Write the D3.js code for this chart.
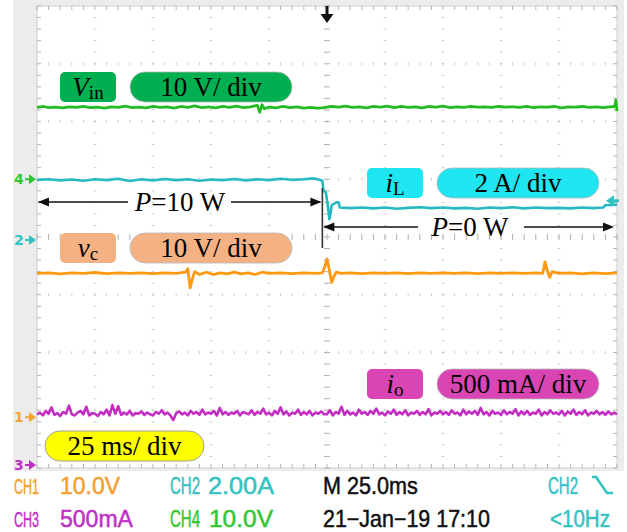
<!DOCTYPE html>
<html><head><meta charset="utf-8">
<script src="https://cdn.jsdelivr.net/npm/d3@7"></script>
<style>html,body{margin:0;padding:0;background:#fff;}svg{display:block;}</style>
</head><body>
<svg id="c" width="627" height="532"></svg>
<script>
// ---------------- DATA ----------------
const timeDomain = [-125, 125];          // ms (25 ms/div, 10 divisions)
const divDomain = [-4, 4];               // vertical divisions
// channel: ground offset (div), units per div
const channels = [
  {id: "4", name: "Vin", offset: 1.0,   perDiv: 10,  color: "#22bb22", markColor: "#33c633"},
  {id: "2", name: "iL",  offset: -0.05, perDiv: 2,   color: "#26b9c0", markColor: "#2fc3c3"},
  {id: "1", name: "vc",  offset: -3.12, perDiv: 10,  color: "#ff9a10", markColor: "#f5a330"},
  {id: "3", name: "io",  offset: -3.95, perDiv: 500, color: "#c22ec2", markColor: "#c030c8"}
];
// Vin (V) [t ms, value]
const vinTrace = [[-125,12.45],[-122,12.6],[-120,12.4],[-117,12.5],[-114,12.35],[-111,12.55],[-108,12.45],[-105,12.6],[-102,12.4],[-99,12.5],[-96,12.3],[-93,12.55],[-90,12.45],[-87,12.65],[-84,12.4],[-81,12.5],[-78,12.35],[-75,12.6],[-72,12.45],[-69,12.55],[-66,12.3],[-63,12.6],[-60,12.45],[-57,12.7],[-54,12.4],[-51,12.55],[-48,12.35],[-45,12.6],[-42,12.45],[-39,12.65],[-36,12.4],[-33,12.55],[-30,12.8],[-29,11.6],[-28,12.9],[-27,12.2],[-25,12.5],[-22,12.35],[-19,12.6],[-16,12.4],[-13,12.55],[-10,12.3],[-7,12.45],[-4,12.3],[-2,12.35],[0,12.5],[2,12.6],[5,12.5],[8,12.65],[11,12.45],[14,12.55],[17,12.35],[20,12.6],[23,12.5],[26,12.65],[29,12.4],[32,12.6],[35,12.45],[38,12.55],[41,12.35],[44,12.6],[47,12.5],[50,12.65],[53,12.4],[56,12.55],[59,12.45],[62,12.6],[65,12.5],[68,12.55],[71,12.45],[74,12.6],[77,12.5],[80,12.55],[83,12.45],[86,12.6],[89,12.4],[92,12.55],[95,12.5],[98,12.6],[101,12.35],[104,12.55],[107,12.5],[110,12.6],[113,12.45],[116,12.55],[119,12.4],[122,12.55],[124,12.6],[124.5,13.7],[125,11.8]];
// iL (A)
const iLTrace = [[-125,2.08],[-120,2.1],[-115,2.06],[-110,2.09],[-105,2.05],[-100,2.1],[-95,2.07],[-90,2.12],[-85,2.04],[-80,2.1],[-75,2.06],[-70,2.11],[-65,2.07],[-60,2.1],[-55,2.05],[-50,2.09],[-45,2.07],[-40,2.11],[-35,2.06],[-30,2.1],[-25,2.07],[-20,2.12],[-15,2.08],[-10,2.1],[-6,2.13],[-4,2.1],[-2,2.05],[-1.5,1.7],[-0.5,1.65],[0.5,1.1],[1,0.72],[1.5,0.9],[2,1.2],[3,1.25],[4,1.3],[5,1.3],[5.5,1.12],[10,1.1],[15,1.12],[20,1.09],[25,1.12],[30,1.08],[35,1.11],[40,1.13],[45,1.1],[50,1.12],[55,1.09],[60,1.11],[65,1.08],[70,1.12],[75,1.1],[80,1.13],[85,1.09],[90,1.12],[95,1.1],[100,1.11],[105,1.09],[110,1.12],[115,1.1],[119,1.12],[120,1.2],[125,1.22]];
// vc (V)
const vcTrace = [[-125,24.9],[-120,25.0],[-115,24.8],[-110,25.0],[-105,24.9],[-100,25.05],[-95,24.85],[-90,25.0],[-85,24.9],[-80,25.0],[-75,24.85],[-70,25.0],[-65,24.9],[-61,25.1],[-60,25.7],[-59,22.4],[-58,24.0],[-57,25.2],[-55,24.7],[-52,25.1],[-49,24.7],[-46,25.0],[-43,24.8],[-40,25.1],[-37,24.8],[-34,25.0],[-31,24.7],[-28,25.1],[-25,24.9],[-20,25.0],[-15,24.85],[-10,25.0],[-5,24.9],[-2,25.0],[-1,26.0],[0,27.4],[1,25.5],[2,23.3],[3,24.4],[4,25.1],[6,24.9],[10,25.0],[15,24.85],[20,25.0],[25,24.9],[30,25.0],[35,24.85],[40,25.0],[45,24.9],[50,25.0],[55,24.9],[60,25.0],[65,24.85],[70,25.0],[75,24.9],[80,25.0],[85,24.9],[90,25.0],[93,24.9],[94,26.9],[95,25.3],[96,24.2],[97,25.2],[100,24.9],[105,25.0],[110,24.8],[115,25.0],[120,24.85],[125,25.0]];
// io (mA), sampled every 1.25 ms from -125 ms
const ioStart = -125, ioStep = 1.25;
const ioValues = [
 440,455,430,470,445,500,435,450,425,460,445,515,440,430,455,470,440,505,430,450,
 445,425,460,440,480,430,520,445,510,435,455,440,470,430,450,445,465,435,455,440,
 430,460,445,475,440,455,430,390,450,465,440,455,430,470,445,460,435,480,440,455,
 445,470,430,495,440,460,435,455,445,470,430,460,450,440,475,435,460,445,490,440,
 455,430,470,445,500,440,465,430,455,445,480,435,460,440,470,430,455,445,465,440,
 440,475,430,460,445,505,435,470,440,455,430,480,445,460,435,470,445,490,440,455,
 430,465,445,480,435,460,440,475,430,455,445,470,435,460,440,485,430,455,445,470,
 440,460,435,475,445,455,430,480,440,465,445,470,435,495,440,460,430,470,445,455,
 435,475,440,460,445,485,430,465,440,470,435,455,445,480,430,460,440,475,445,455,
 440,470,430,465,445,480,435,460,440,475,430,455,445,470,440,460,435,465,440,455,
 440];
const scaleLabels = [
  {sym: "V", sub: "in", text: "10 V/ div",   color: "#00b050", bx: 60,  pill: 130, y: 72,  w: 162},
  {sym: "i", sub: "L",  text: "2 A/ div",    color: "#1ee5ef", bx: 367, pill: 437, y: 168, w: 162},
  {sym: "v", sub: "c",  text: "10 V/ div",   color: "#f4b183", bx: 60,  pill: 130, y: 233, w: 162},
  {sym: "i", sub: "o",  text: "500 mA/ div", color: "#d946b4", bx: 367, pill: 437, y: 369, w: 162}
];
const timeLabel = "25 ms/ div";
const powerBefore = "10 W", powerAfter = "0 W";
const statusRow1 = [
  {t: "CH1", x: 14, w: 25, c: "#f2a030"}, {t: "10.0V", x: 60, w: 60, c: "#f2a030"},
  {t: "CH2", x: 170, w: 30, c: "#33c3c3"}, {t: "2.00A", x: 208, w: 66, c: "#33c3c3"},
  {t: "M 25.0ms", x: 323, w: 95, c: "#111"}, {t: "CH2", x: 548, w: 30, c: "#33c3c3"}
];
const statusRow2 = [
  {t: "CH3", x: 14, w: 25, c: "#c030c8"}, {t: "500mA", x: 60, w: 73, c: "#c030c8"},
  {t: "CH4", x: 170, w: 30, c: "#33c633"}, {t: "10.0V", x: 209, w: 64, c: "#33c633"},
  {t: "21\u2212Jan\u221219 17:10", x: 323, w: 167, c: "#111"}, {t: "<10Hz", x: 550, w: 60, c: "#33c3c3"}
];

// ---------------- DRAW ----------------
const svg = d3.select("#c");
const L = 37, R = 617, T = 6, B = 468;
const x = d3.scaleLinear().domain(timeDomain).range([L, R]);
const xd = d3.scaleLinear().domain([-5, 5]).range([L, R]);
const yd = d3.scaleLinear().domain(divDomain).range([B, T]);

svg.append("rect").attr("x", 0).attr("y", 0).attr("width", 627).attr("height", 532).attr("fill", "#fff");
svg.append("rect").attr("x", 13).attr("y", 0).attr("width", 611).attr("height", 471).attr("fill", "#ececec");
svg.append("rect").attr("x", L).attr("y", T).attr("width", R - L).attr("height", B - T)
  .attr("fill", "#fff").attr("stroke", "#cfcfcf").attr("stroke-width", 1);

const g = svg.append("g");
const minorX = d3.range(-5, 5.001, 0.2).map(v => +v.toFixed(2));
const minorY = d3.range(-4, 4.001, 0.2).map(v => +v.toFixed(2));
// border ticks
minorX.forEach(v => {
  g.append("line").attr("x1", xd(v)).attr("x2", xd(v)).attr("y1", T).attr("y2", T + 4).attr("stroke", "#b5b5b5");
  g.append("line").attr("x1", xd(v)).attr("x2", xd(v)).attr("y1", B).attr("y2", B - 4).attr("stroke", "#b5b5b5");
});
minorY.forEach(v => {
  g.append("line").attr("y1", yd(v)).attr("y2", yd(v)).attr("x1", L).attr("x2", L + 4).attr("stroke", "#b5b5b5");
  g.append("line").attr("y1", yd(v)).attr("y2", yd(v)).attr("x1", R).attr("x2", R - 4).attr("stroke", "#b5b5b5");
});
// grid dots
d3.range(-4, 5).forEach(k => {
  const cx = xd(k), len = k === 0 ? 3 : 1.5;
  minorY.forEach(v => g.append("line").attr("x1", cx - len).attr("x2", cx + len).attr("y1", yd(v)).attr("y2", yd(v))
    .attr("stroke", k === 0 ? "#b0b0b0" : "#cdcdcd"));
});
d3.range(-3, 4).forEach(k => {
  const cy = yd(k), len = k === 0 ? 3 : 1.5;
  minorX.forEach(v => g.append("line").attr("y1", cy - len).attr("y2", cy + len).attr("x1", xd(v)).attr("x2", xd(v))
    .attr("stroke", k === 0 ? "#b0b0b0" : "#cdcdcd"));
});

// traces
function chY(ch, v) { return yd(ch.offset + v / ch.perDiv); }
const line = ch => d3.line().x(d => x(d[0])).y(d => chY(ch, d[1]));
const ioTrace = ioValues.map((v, i) => [ioStart + i * ioStep, v]);
[[vinTrace, channels[0], 2.8], [iLTrace, channels[1], 2.6], [vcTrace, channels[2], 2.8], [ioTrace, channels[3], 2.6]].forEach(([data, ch, sw]) => {
  svg.append("path").datum(data).attr("d", line(ch)).attr("fill", "none")
    .attr("stroke", ch.color).attr("stroke-width", sw).attr("stroke-linejoin", "round");
});

// channel ground markers
channels.forEach(ch => {
  const cy = yd(ch.offset);
  svg.append("text").attr("x", 14).attr("y", cy + 5).text(ch.id)
    .attr("font-family", "DejaVu Sans, Arial").attr("font-size", 14).attr("font-weight", "bold")
    .attr("fill", ch.markColor);
  svg.append("path").attr("d", `M25,${cy - 1}h4v-4l7,5l-7,5v-4h-4z`).attr("fill", ch.markColor);
});
// CH2 trigger level marker at right
{
  const cy = chY(channels[1], 1.15) - 6;
  svg.append("path").attr("d", `M606,${cy}l8,-5.5v4h5v3h-5v4z`).attr("fill", channels[1].markColor);
}
// trigger position arrow
svg.append("path").attr("d", `M${x(0) - 1.5},6h3v8h5l-6.5,9l-6.5,-9h5z`).attr("fill", "#111");

// scale labels
const serif = "Liberation Serif, Times New Roman, serif";
scaleLabels.forEach(s => {
  svg.append("rect").attr("x", s.bx).attr("y", s.y).attr("width", 56).attr("height", 30).attr("rx", 5)
    .attr("fill", s.color);
  const t = svg.append("text").attr("x", s.bx + 28).attr("y", s.y + 24).attr("text-anchor", "middle")
    .attr("font-family", serif).attr("font-size", 27).attr("fill", "#000");
  t.append("tspan").attr("font-style", "italic").text(s.sym);
  t.append("tspan").attr("font-size", 19).attr("dy", 3).text(s.sub);
  svg.append("rect").attr("x", s.pill).attr("y", s.y).attr("width", s.w).attr("height", 30).attr("rx", 15)
    .attr("fill", s.color).attr("stroke", "#b8b8b8").attr("stroke-width", 0.8);
  svg.append("text").attr("x", s.pill + s.w / 2).attr("y", s.y + 24).attr("text-anchor", "middle")
    .attr("font-family", serif).attr("font-size", 27).attr("fill", "#000").text(s.text);
});
svg.append("rect").attr("x", 45).attr("y", 431).attr("width", 159).attr("height", 30).attr("rx", 15)
  .attr("fill", "#ffff00").attr("stroke", "#a0a0a0").attr("stroke-width", 1);
svg.append("text").attr("x", 124.5).attr("y", 455).attr("text-anchor", "middle")
  .attr("font-family", serif).attr("font-size", 27).attr("fill", "#000").text(timeLabel);

// power annotations
const stepX = x(-2);
function arrowHead(tipX, y, dir) {
  svg.append("path").attr("d", `M${tipX},${y}l${-dir * 11},-4.5v9z`).attr("fill", "#111");
}
svg.append("line").attr("x1", stepX).attr("x2", stepX).attr("y1", 188).attr("y2", 248).attr("stroke", "#333").attr("stroke-width", 1.6);
const y1 = 202, y2 = 227;
svg.append("line").attr("x1", L + 2).attr("x2", 128).attr("y1", y1).attr("y2", y1).attr("stroke", "#111").attr("stroke-width", 1.3);
svg.append("line").attr("x1", 231).attr("x2", stepX - 2).attr("y1", y1).attr("y2", y1).attr("stroke", "#111").attr("stroke-width", 1.3);
arrowHead(L + 1, y1, -1); arrowHead(stepX - 1, y1, 1);
const p1 = svg.append("text").attr("x", 180).attr("y", y1 + 9).attr("text-anchor", "middle")
  .attr("font-family", serif).attr("font-size", 27).attr("fill", "#000");
p1.append("tspan").attr("font-style", "italic").text("P");
p1.append("tspan").text("=" + powerBefore);
svg.append("line").attr("x1", stepX + 2).attr("x2", 418).attr("y1", y2).attr("y2", y2).attr("stroke", "#111").attr("stroke-width", 1.3);
svg.append("line").attr("x1", 524).attr("x2", 612).attr("y1", y2).attr("y2", y2).attr("stroke", "#111").attr("stroke-width", 1.3);
arrowHead(stepX + 1, y2, -1); arrowHead(614, y2, 1);
const p2 = svg.append("text").attr("x", 470).attr("y", y2 + 9).attr("text-anchor", "middle")
  .attr("font-family", serif).attr("font-size", 27).attr("fill", "#000");
p2.append("tspan").attr("font-style", "italic").text("P");
p2.append("tspan").text("=" + powerAfter);

// status rows (condensed scope font emulated by horizontal scaling)
const sans = "Liberation Sans, Arial, sans-serif";
[[statusRow1, 494], [statusRow2, 527]].forEach(([row, by]) => {
  row.forEach(d => {
    const t = svg.append("text").attr("x", 0).attr("y", 0).text(d.t)
      .attr("font-family", sans).attr("font-size", 23).attr("fill", d.c)
      .attr("stroke", d.c).attr("stroke-width", 0.5);
    const nat = t.node().getComputedTextLength() || d.w;
    t.attr("transform", `translate(${d.x},${by}) scale(${(d.w / nat).toFixed(4)},1)`);
  });
});
svg.append("path").attr("d", "M592,477h4l11,16h6").attr("fill", "none").attr("stroke", "#33c3c3").attr("stroke-width", 2.6);
</script>
</body></html>
